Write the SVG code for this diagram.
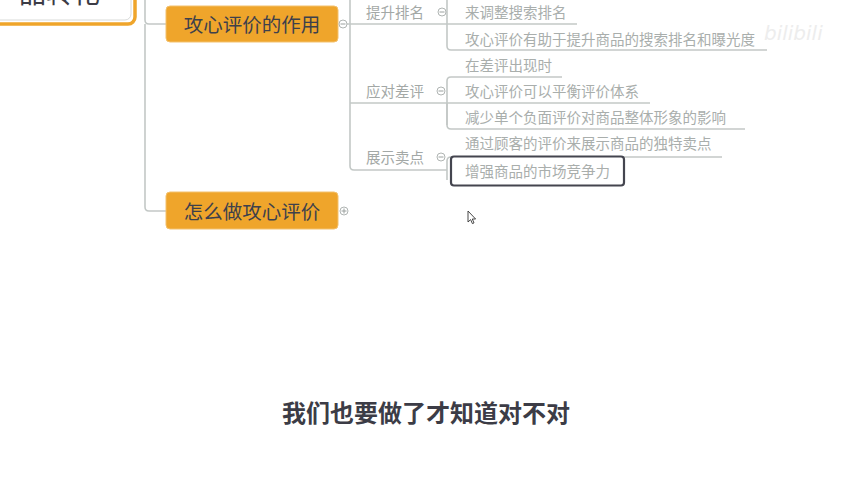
<svg xmlns="http://www.w3.org/2000/svg" width="852" height="480" viewBox="0 0 852 480">
<style>
.topic{font-family:"Noto Sans CJK SC","Noto Sans",sans-serif;font-size:14.5px;fill:#a9aeac}
.label{font-family:"Noto Sans CJK SC","Noto Sans",sans-serif;font-size:14.5px;fill:#a3a8a6}
.main{font-family:"Noto Sans CJK SC","Noto Sans",sans-serif;font-size:19.5px;fill:#3d404c;text-anchor:middle}
.obox{fill:#efa52b;stroke:#f3c16e;stroke-width:1}
.conn{fill:none;stroke:#c3c8c6;stroke-width:1.6}
.tog{fill:#fff;stroke:#b0b5b3;stroke-width:1}
.togline{stroke:#9aa09e;stroke-width:1}
.sub{font-family:"Noto Sans CJK SC","Noto Sans",sans-serif;font-size:24px;font-weight:bold;fill:#3c3c46;text-anchor:middle}
</style>
<rect width="852" height="480" fill="#ffffff"/>

<g id="connectors">
  <path class="conn" d="M145,0 V20 Q145,24 149,24 H166"/>
  <path class="conn" d="M145,24 V207 Q145,211 149,211 H166"/>
  <path class="conn" d="M347,24 H577"/>
  <path class="conn" d="M350,0 V166 Q350,170 354,170 H447"/>
  <path class="conn" d="M350,103 H650"/>
  <path class="conn" d="M447,0 V46 Q447,50 451,50 H767"/>
  <path class="conn" d="M447,125 V81 Q447,77 451,77 H562"/>
  <path class="conn" d="M447,103 V125 Q447,129 451,129 H745"/>
  <path class="conn" d="M447,180 V161 Q447,157 451,157 H722"/>
</g>

<g id="root-node">
  <rect x="-12" y="-40" width="147" height="64" rx="7" fill="#ffffff" stroke="#efa52b" stroke-width="3.5"/>
  <rect x="-12" y="-40" width="143" height="60" rx="6" fill="none" stroke="#d8dad9" stroke-width="1"/>
  <text x="19" y="3" style="font-family:'Noto Sans CJK SC','Noto Sans',sans-serif;font-size:27px;fill:#3c3c46">品转化</text>
</g>

<g id="node-role">
  <rect class="obox" x="166" y="6" width="172" height="36" rx="4"/>
  <text class="main" x="252" y="31.5">攻心评价的作用</text>
  <circle class="tog" cx="343" cy="24" r="4"/>
  <line class="togline" x1="340.5" y1="24" x2="345.5" y2="24"/>
</g>

<g id="node-how">
  <rect class="obox" x="166" y="192" width="172" height="37" rx="4"/>
  <text class="main" x="252" y="218.5">怎么做攻心评价</text>
  <circle class="tog" cx="344" cy="211" r="4"/>
  <line class="togline" x1="341.5" y1="211" x2="346.5" y2="211"/>
  <line class="togline" x1="344" y1="208.5" x2="344" y2="213.5"/>
</g>

<g id="node-rank">
  <text class="label" x="366" y="17.5">提升排名</text>
  <circle class="tog" cx="442" cy="12" r="4"/>
  <line class="togline" x1="439.5" y1="12" x2="444.5" y2="12"/>
</g>
<g id="node-rank-1"><text class="topic" x="465" y="17.5">来调整搜索排名</text></g>
<g id="node-rank-2"><text class="topic" x="465" y="44.5">攻心评价有助于提升商品的搜索排名和曝光度</text></g>

<g id="node-bad">
  <text class="label" x="366" y="96.5">应对差评</text>
  <circle class="tog" cx="441" cy="91" r="4"/>
  <line class="togline" x1="438.5" y1="91" x2="443.5" y2="91"/>
</g>
<g id="node-bad-1"><text class="topic" x="465" y="70.5">在差评出现时</text></g>
<g id="node-bad-2"><text class="topic" x="465" y="96.5">攻心评价可以平衡评价体系</text></g>
<g id="node-bad-3"><text class="topic" x="465" y="122.5">减少单个负面评价对商品整体形象的影响</text></g>

<g id="node-show">
  <text class="label" x="366" y="162.5">展示卖点</text>
  <circle class="tog" cx="441" cy="157" r="4"/>
  <line class="togline" x1="438.5" y1="157" x2="443.5" y2="157"/>
</g>
<g id="node-show-1"><text class="topic" x="465" y="148.5">通过顾客的评价来展示商品的独特卖点</text></g>
<g id="node-show-2">
  <rect x="451" y="156.5" width="173" height="29" rx="3" fill="#ffffff" stroke="#44454f" stroke-width="2.2"/>
  <text class="topic" x="465" y="176.5">增强商品的市场竞争力</text>
</g>

<g id="cursor">
  <path d="M468,211 L468,222 L470.6,219.6 L472.4,223.6 L474,222.9 L472.3,219 L475.6,219 Z" fill="#ffffff" stroke="#333333" stroke-width="0.9"/>
</g>

<g id="watermark">
  <text x="764" y="40" style="font-family:'DejaVu Sans',sans-serif;font-size:20px;font-style:italic;fill:#ededed">bilibili</text>
</g>

<g id="subtitle">
  <text class="sub" x="426" y="422">我们也要做了才知道对不对</text>
</g>
</svg>
